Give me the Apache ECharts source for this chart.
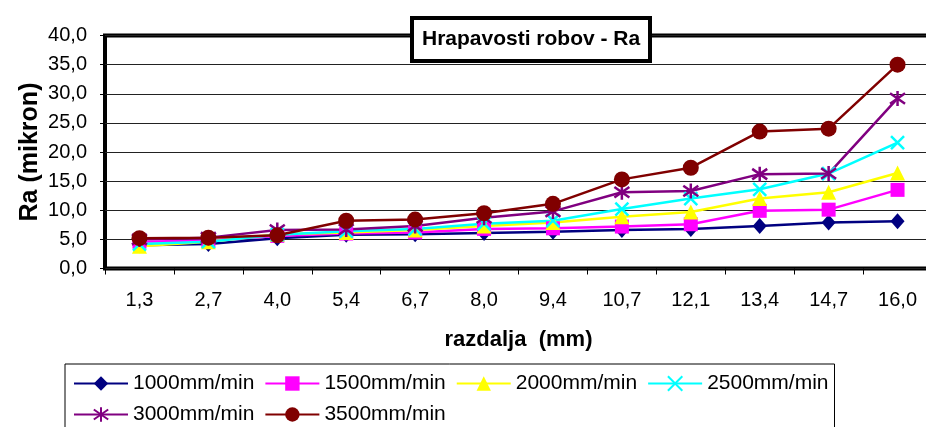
<!DOCTYPE html>
<html>
<head>
<meta charset="utf-8">
<script src="https://cdn.jsdelivr.net/npm/echarts@6/dist/echarts.min.js"></script>
<style>
  html, body { margin: 0; padding: 0; background: #fff; }
  #chart { width: 926px; height: 427px; }
</style>
</head>
<body>
<div id="chart"></div>
<script>
// Distance along the edge (mm)
var categories = ['1,3', '2,7', '4,0', '5,4', '6,7', '8,0', '9,4', '10,7', '12,1', '13,4', '14,7', '16,0'];

// Ra roughness (micron) for each feed rate
var ra1000 = [4.0, 4.2, 5.2, 5.8, 5.9, 6.1, 6.3, 6.6, 6.8, 7.3, 7.9, 8.1];
var ra1500 = [4.6, 4.8, 5.6, 6.0, 6.2, 6.8, 6.9, 7.2, 7.6, 9.9, 10.1, 13.5];
var ra2000 = [3.8, 4.6, 5.9, 6.2, 6.6, 7.3, 7.9, 8.9, 9.7, 12.0, 13.1, 16.4];
var ra2500 = [4.2, 4.6, 5.8, 6.4, 6.8, 7.7, 8.2, 10.2, 12.0, 13.6, 16.3, 21.6];
var ra3000 = [5.0, 5.3, 6.6, 6.7, 7.3, 8.7, 9.8, 13.1, 13.3, 16.2, 16.3, 29.2];
var ra3500 = [5.2, 5.3, 5.7, 8.2, 8.4, 9.5, 11.1, 15.3, 17.3, 23.5, 24.0, 35.0];

var seriesNames = ['1000mm/min', '1500mm/min', '2000mm/min', '2500mm/min', '3000mm/min', '3500mm/min'];

var FONT = 'Liberation Sans, Arial, sans-serif';

var crossPath = 'path://M0,0L10,10M10,0L0,10';
var starPath = 'path://M5,0L5,10M0,1.5L10,8.5M10,1.5L0,8.5';

function lineSeries(name, data, color, symbol, size, stroked) {
  return {
    name: name,
    type: 'line',
    data: data,
    symbol: symbol,
    symbolSize: size,
    showAllSymbol: true,
    lineStyle: { color: color, width: 2.5 },
    itemStyle: stroked
      ? { color: color, borderColor: color, borderWidth: 2.5 }
      : { color: color, borderWidth: 0 },
    emphasis: { disabled: true },
    animation: false
  };
}

var chart = echarts.init(document.getElementById('chart'), null, { renderer: 'canvas' });

chart.setOption({
  backgroundColor: '#fff',
  animation: false,
  title: {
    text: 'Hrapavosti robov - Ra',
    left: 412,
    top: 18,
    padding: [11, 10],
    backgroundColor: '#fff',
    borderColor: '#000',
    borderWidth: 4,
    textStyle: { fontFamily: FONT, fontSize: 21, fontWeight: 'bold', color: '#000' }
  },
  // plot area runs a little past the right edge of the canvas
  grid: {
    left: 105,
    width: 827,
    top: 35.5,
    height: 233,
    outerBoundsMode: 'none',
    containLabel: false,
    show: true,
    borderColor: '#000',
    borderWidth: 4,
    backgroundColor: 'transparent'
  },
  legend: {
    data: seriesNames,
    left: 65,
    top: 364,
    width: 780,
    padding: [9, 6, 12, 8],
    itemGap: 10,
    itemWidth: 54,
    itemHeight: 18,
    borderColor: '#000',
    borderWidth: 1,
    textStyle: { fontFamily: FONT, fontSize: 21, color: '#000' }
  },
  xAxis: {
    type: 'category',
    data: categories,
    boundaryGap: true,
    name: 'razdalja  (mm)',
    nameLocation: 'middle',
    nameGap: 60,
    nameMoveOverlap: false,
    nameTextStyle: { fontFamily: FONT, fontSize: 22, fontWeight: 'bold', color: '#000' },
    axisLine: { show: false },
    axisTick: { show: true, inside: false, length: 6, lineStyle: { color: '#000', width: 1 } },
    axisLabel: { margin: 22, fontFamily: FONT, fontSize: 20, color: '#000' },
    splitLine: { show: false }
  },
  yAxis: {
    type: 'value',
    min: 0,
    max: 40,
    interval: 5,
    name: 'Ra (mikron)',
    nameLocation: 'middle',
    nameRotate: 90,
    nameGap: 62,
    nameMoveOverlap: false,
    nameTextStyle: { fontFamily: FONT, fontSize: 25, fontWeight: 'bold', color: '#000' },
    axisLine: { show: false },
    axisTick: { show: true, inside: false, length: 5, lineStyle: { color: '#000', width: 1 } },
    axisLabel: {
      margin: 18,
      fontFamily: FONT,
      fontSize: 20,
      color: '#000',
      formatter: function (v) { return v.toFixed(1).replace('.', ','); }
    },
    splitLine: { show: true, lineStyle: { color: '#222', width: 1 } }
  },
  series: [
    lineSeries(seriesNames[0], ra1000, '#000080', 'diamond', [14, 16], false),
    lineSeries(seriesNames[1], ra1500, '#FF00FF', 'rect', 14, false),
    lineSeries(seriesNames[2], ra2000, '#FFFF00', 'triangle', 15, false),
    lineSeries(seriesNames[3], ra2500, '#00FFFF', crossPath, 13, true),
    lineSeries(seriesNames[4], ra3000, '#800080', starPath, 15, true),
    lineSeries(seriesNames[5], ra3500, '#800000', 'circle', 16, false)
  ]
});
</script>
</body>
</html>
